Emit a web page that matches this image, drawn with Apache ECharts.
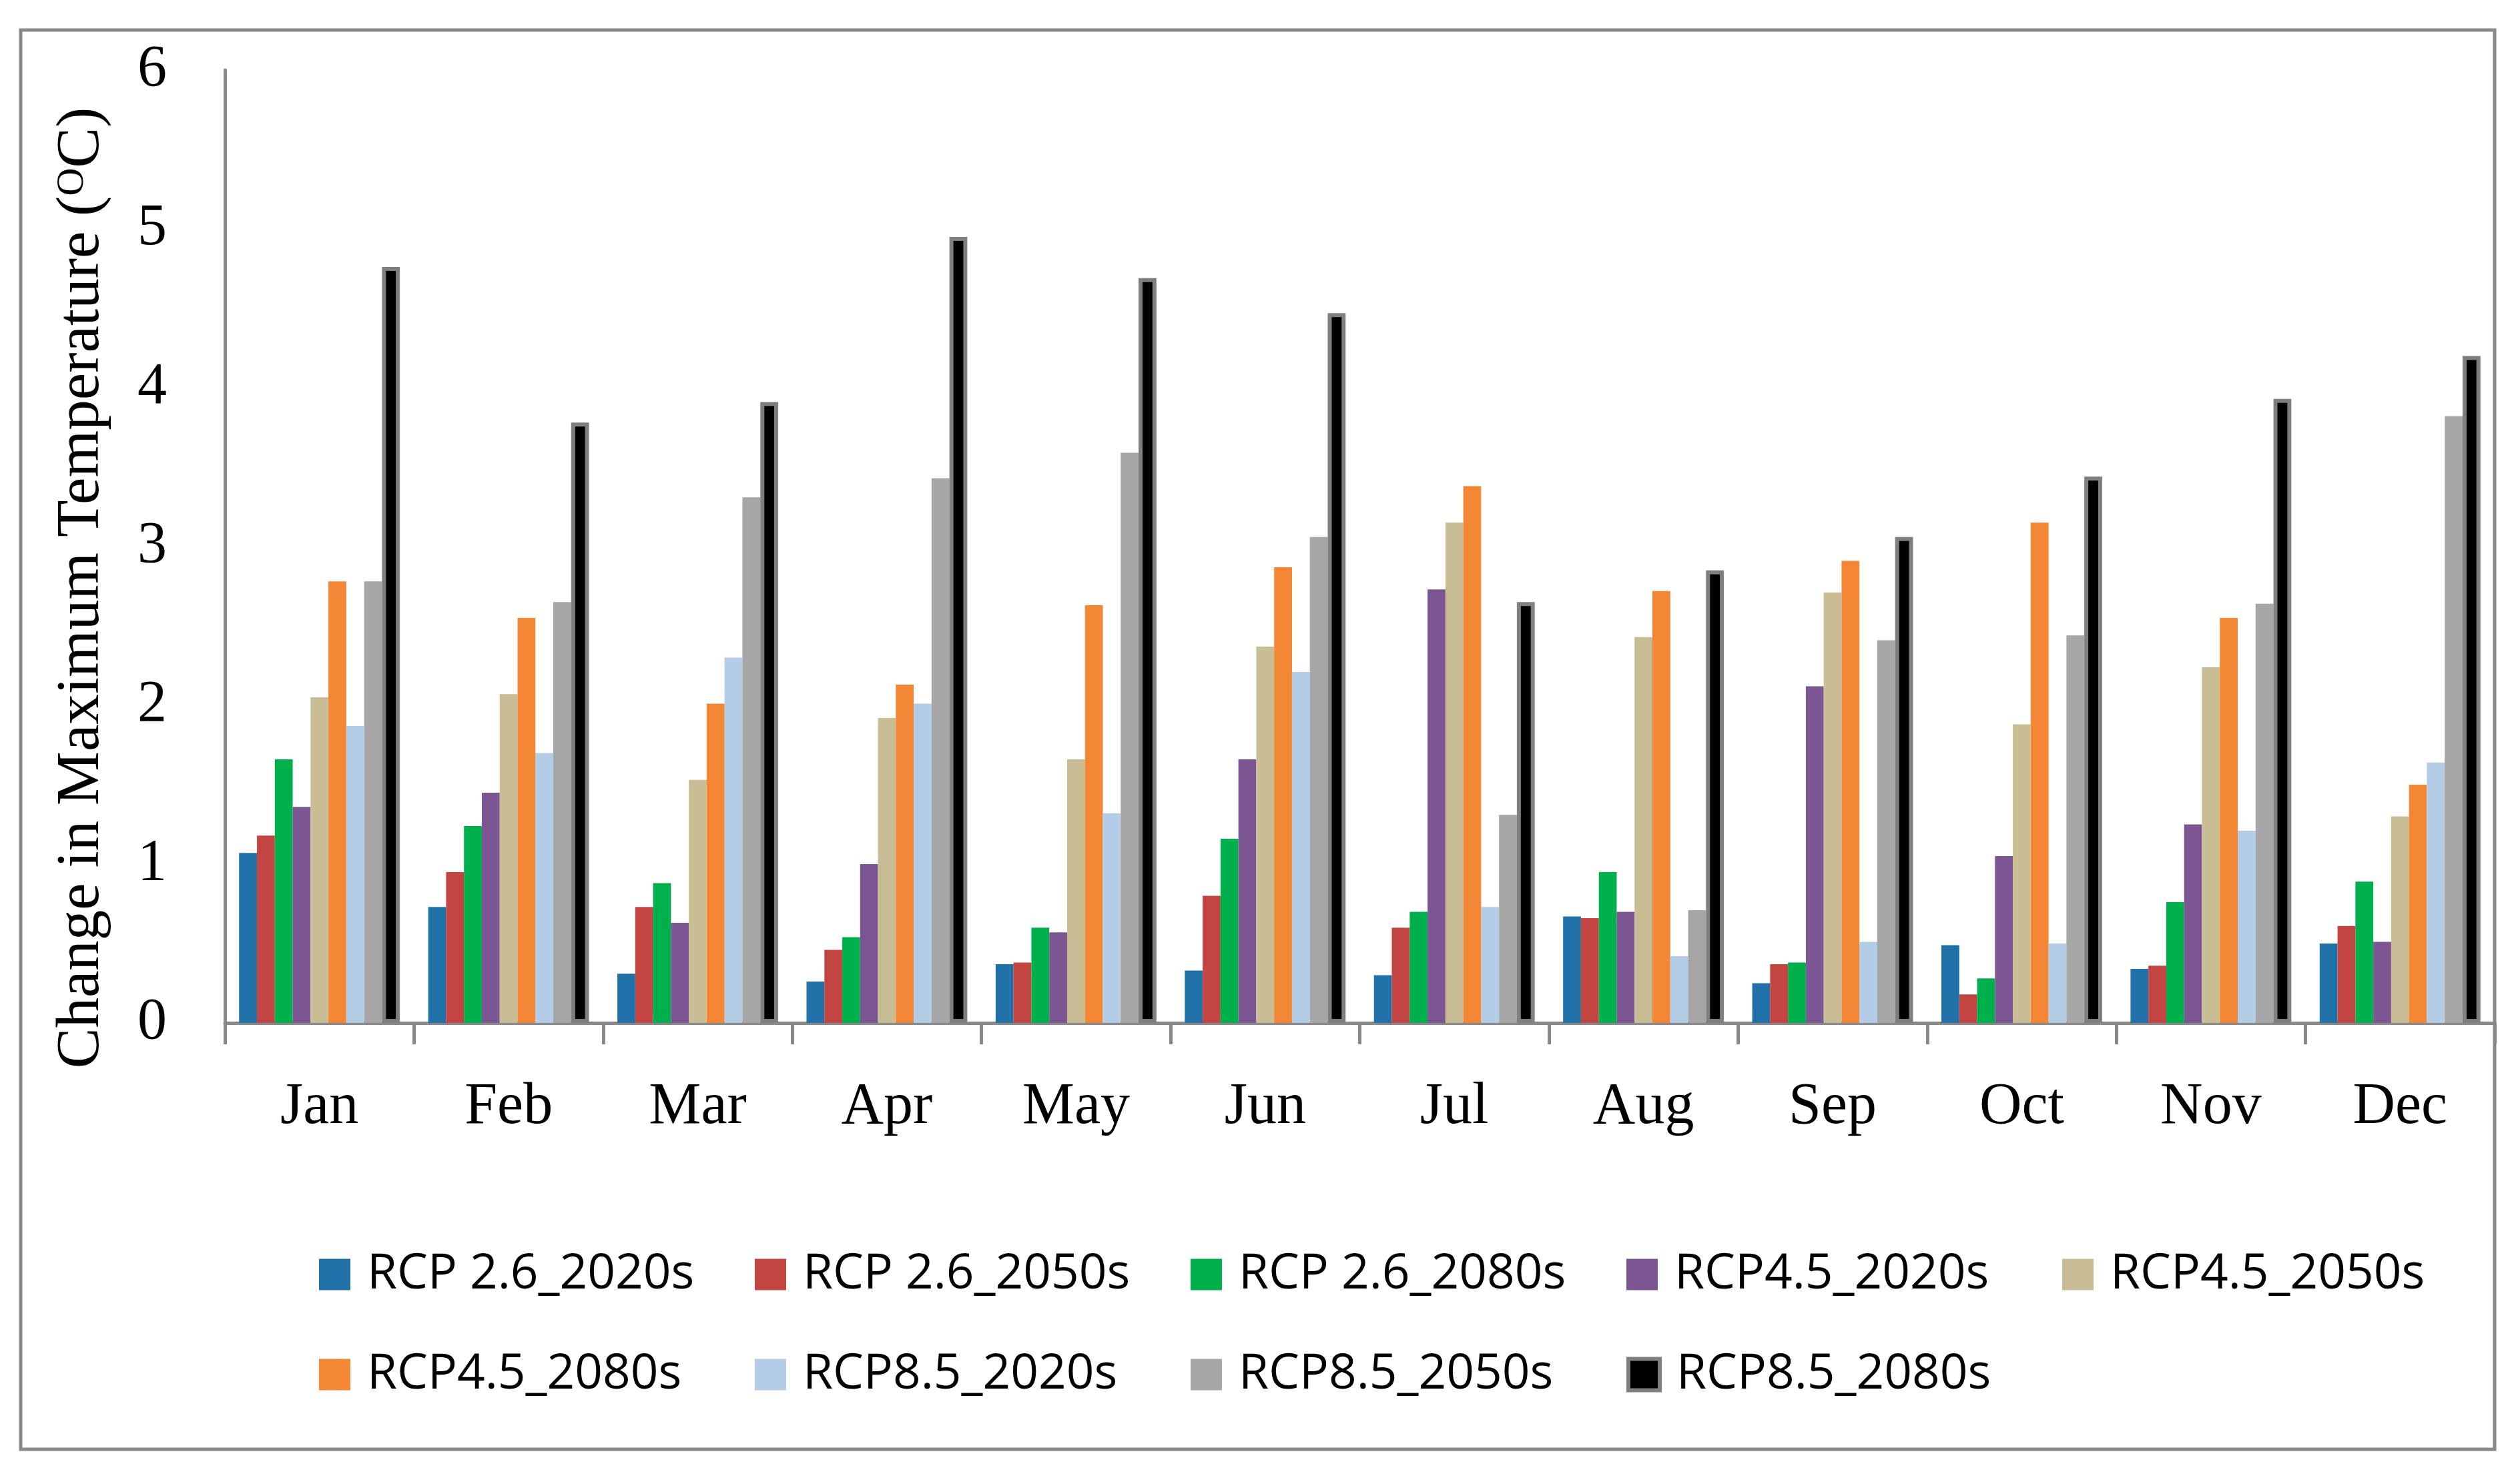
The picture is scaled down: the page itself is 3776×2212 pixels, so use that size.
<!DOCTYPE html>
<html lang="en">
<head>
  <meta charset="UTF-8">
  <title>Change in Maximum Temperature</title>
  <script src="https://cdn.jsdelivr.net/npm/echarts@6/dist/echarts.min.js"></script>
  <style>
    html, body { margin: 0; padding: 0; background: #fff; }
    #container { width: 3776px; height: 2212px; }
  </style>
</head>
<body>
  <div id="container"></div>
  <script>
    // months on the x axis
    var months = ['Jan', 'Feb', 'Mar', 'Apr', 'May', 'Jun', 'Jul', 'Aug', 'Sep', 'Oct', 'Nov', 'Dec'];

    // scenario names (legend order)
    var scenarios = ['RCP 2.6_2020s', 'RCP 2.6_2050s', 'RCP 2.6_2080s', 'RCP4.5_2020s', 'RCP4.5_2050s',
                     'RCP4.5_2080s', 'RCP8.5_2020s', 'RCP8.5_2050s', 'RCP8.5_2080s'];

    // values, one array per scenario
    var rcp26_2020 = [1.07, 0.73, 0.31, 0.26, 0.37, 0.33, 0.30, 0.67, 0.25, 0.49, 0.34, 0.50];
    var rcp26_2050 = [1.18, 0.95, 0.73, 0.46, 0.38, 0.80, 0.60, 0.66, 0.37, 0.18, 0.36, 0.61];
    var rcp26_2080 = [1.66, 1.24, 0.88, 0.54, 0.60, 1.16, 0.70, 0.95, 0.38, 0.28, 0.76, 0.89];
    var rcp45_2020 = [1.36, 1.45, 0.63, 1.00, 0.57, 1.66, 2.73, 0.70, 2.12, 1.05, 1.25, 0.51];
    var rcp45_2050 = [2.05, 2.07, 1.53, 1.92, 1.66, 2.37, 3.15, 2.43, 2.71, 1.88, 2.24, 1.30];
    var rcp45_2080 = [2.78, 2.55, 2.01, 2.13, 2.63, 2.87, 3.38, 2.72, 2.91, 3.15, 2.55, 1.50];
    var rcp85_2020 = [1.87, 1.70, 2.30, 2.01, 1.32, 2.21, 0.73, 0.42, 0.51, 0.50, 1.21, 1.64];
    var rcp85_2050 = [2.78, 2.65, 3.31, 3.43, 3.59, 3.06, 1.31, 0.71, 2.41, 2.44, 2.64, 3.82];
    var rcp85_2080 = [4.76, 3.78, 3.91, 4.95, 4.69, 4.47, 2.65, 2.85, 3.06, 3.44, 3.93, 4.20];

    var seriesValues = [rcp26_2020, rcp26_2050, rcp26_2080, rcp45_2020, rcp45_2050,
                        rcp45_2080, rcp85_2020, rcp85_2050, rcp85_2080];

    var colors = ['#1f71a8', '#c34542', '#00b04c', '#7b5693', '#c8bd94',
                  '#f38736', '#b3cde6', '#a6a6a6', '#000000'];

    // y axis ticks
    var yMin = 0, yMax = 6, yStep = 1;

    var serifFont = '"Liberation Serif", "Times New Roman", serif';
    var sansFont = '"Open Sans", "Noto Sans", sans-serif';
    var axisGray = '#898989';
    var outlineGray = '#7f7f7f';
    var lastIdx = scenarios.length - 1;

    var series = scenarios.map(function (name, i) {
      var s = {
        name: name,
        type: 'bar',
        data: seriesValues[i],
        barGap: '0%',
        barCategoryGap: '15%',
        itemStyle: { color: colors[i] }
      };
      // the last scenario is drawn black with a grey outline
      if (i === lastIdx) {
        s.itemStyle.borderColor = outlineGray;
        s.itemStyle.borderWidth = 6;
      }
      return s;
    });

    // legend entries, the black one keeps its grey outline
    var legendData = scenarios.map(function (name, i) {
      if (i === lastIdx) {
        return { name: name, itemStyle: { color: colors[i], borderColor: outlineGray, borderWidth: 6 } };
      }
      return { name: name };
    });

    var myChart = echarts.init(document.getElementById('container'));

    myChart.setOption({
      backgroundColor: '#ffffff',
      animation: false,
      grid: { left: 337, right: 38, top: 105, bottom: 679, containLabel: false },
      legend: {
        data: legendData,
        left: 473,
        top: 1855,
        width: 3300,
        itemWidth: 47,
        itemHeight: 47,
        itemGap: 50,
        icon: 'rect',
        textStyle: {
          fontFamily: sansFont,
          fontSize: 73,
          color: '#000',
          width: 531,
          lineHeight: 100,
          padding: [0, 0, 0, 20]
        }
      },
      xAxis: {
        type: 'category',
        data: months,
        axisLine: { lineStyle: { color: axisGray, width: 5 } },
        axisTick: { show: true, length: 32, lineStyle: { color: axisGray, width: 5 } },
        axisLabel: { fontFamily: serifFont, fontSize: 88, color: '#000', margin: 83 },
        splitLine: { show: false }
      },
      yAxis: {
        type: 'value',
        min: yMin,
        max: yMax,
        interval: yStep,
        axisLine: { show: true, lineStyle: { color: axisGray, width: 5 } },
        axisTick: { show: false },
        splitLine: { show: false },
        axisLabel: { fontFamily: serifFont, fontSize: 88, color: '#000', margin: 87 },
        name: 'Change in Maximum Temperature ({sup|O}C)',
        nameLocation: 'middle',
        nameGap: 168,
        nameTextStyle: {
          fontFamily: serifFont,
          fontSize: 91,
          color: '#000',
          padding: [0, 124, 0, 0],
          rich: {
            sup: { fontFamily: serifFont, fontSize: 58, color: '#000', padding: [0, 0, 30, 0] }
          }
        }
      },
      graphic: [
        {
          type: 'rect',
          shape: { x: 31, y: 45, width: 3707, height: 2127 },
          style: { fill: 'none', stroke: axisGray, lineWidth: 5 },
          silent: true,
          z: -1
        }
      ],
      series: series
    });
  </script>
</body>
</html>
